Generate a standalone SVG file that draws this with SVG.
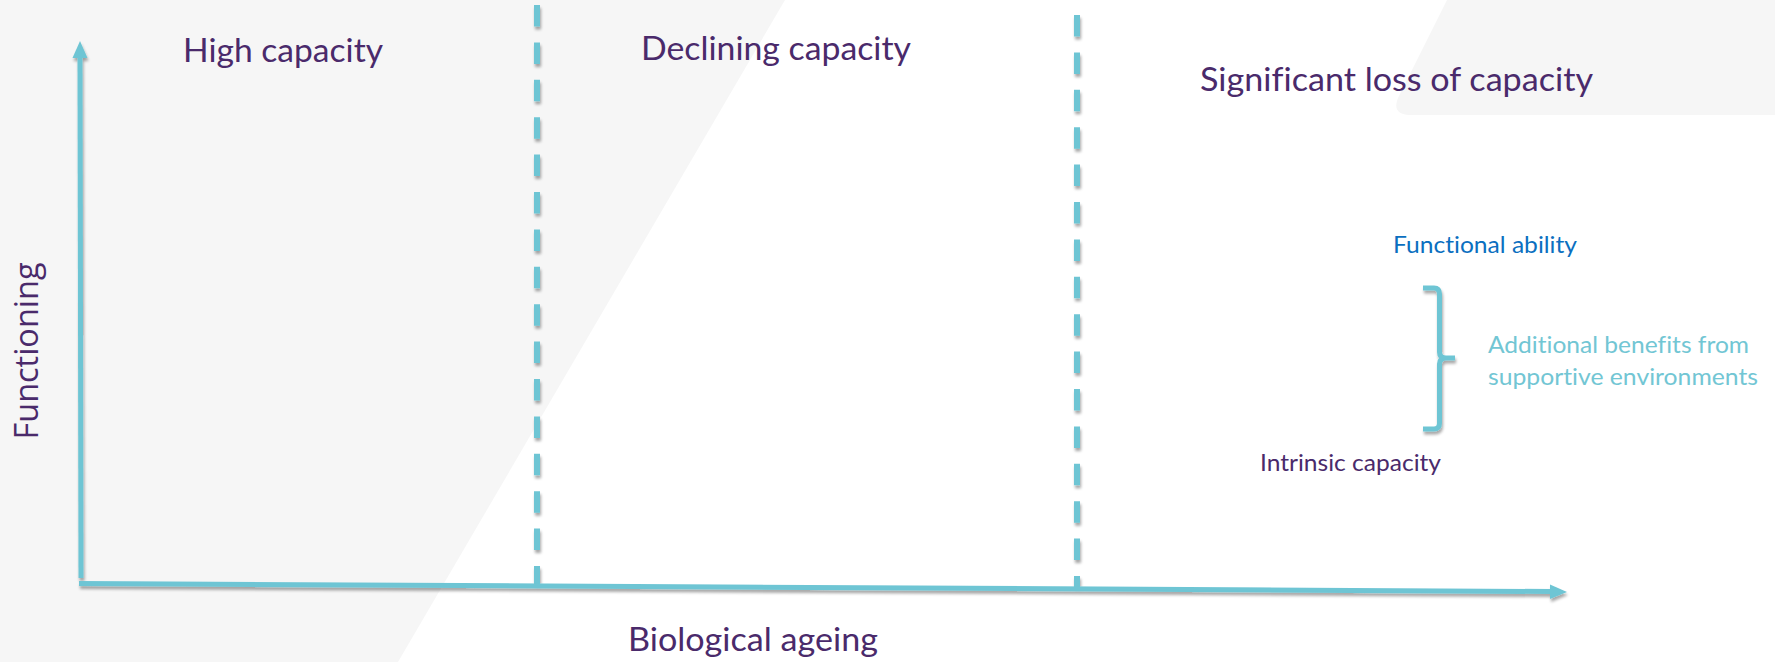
<svg xmlns="http://www.w3.org/2000/svg" width="1775" height="662" viewBox="0 0 1775 662">
  <defs>
    <filter id="shadow" x="-20%" y="-20%" width="140%" height="140%">
      <feGaussianBlur in="SourceAlpha" stdDeviation="1.6"/>
      <feOffset dx="1" dy="3" result="off"/>
      <feComponentTransfer><feFuncA type="linear" slope="0.35"/></feComponentTransfer>
      <feMerge><feMergeNode/><feMergeNode in="SourceGraphic"/></feMerge>
    </filter>
  </defs>
  <style>
    .txt { font-family: Lato, "Open Sans", "Liberation Sans", sans-serif; font-variant-ligatures: none; font-feature-settings: "liga" 0, "clig" 0, "dlig" 0; }
    .head { font-size: 33px; fill: #4a2a6b; }
    .small { font-size: 23px; }
    .purple { fill: #4a2a6b; }
    .blue { fill: #0b6fc0; }
    .teal { fill: #72c6d4; }
    .axis { stroke: #6ec5d4; stroke-width: 5; fill: none; }
    .dash { stroke: #6ec5d4; stroke-width: 6; fill: none; stroke-dasharray: 21.5 15.9; }
    .head-fill { fill: #6ec5d4; }
  </style>

  <!-- background panels -->
  <rect x="0" y="0" width="1775" height="662" fill="#ffffff"/>
  <polygon points="0,0 785,0 398,662 0,662" fill="#f6f6f6"/>
  <path d="M1447,0 L1398,98 Q1391,115 1412,115 L1775,115 L1775,0 Z" fill="#f6f6f6"/>

  <!-- axes and phase boundaries -->
  <g id="connectors" filter="url(#shadow)">
    <line class="dash" x1="537" y1="5" x2="537" y2="584"/>
    <line class="dash" x1="1077" y1="15" x2="1077" y2="590"/>
    <line class="axis" x1="81" y1="578" x2="80" y2="55"/>
    <polygon class="head-fill" points="72.5,58 80,41 87.5,58"/>
    <line class="axis" x1="79" y1="583.5" x2="1553" y2="591.5"/>
    <polygon class="head-fill" points="1550,584.5 1567,592 1550,599"/>
  </g>

  <!-- phase titles -->
  <g id="phase-high">
    <text class="txt head" x="183" y="62" textLength="200" lengthAdjust="spacingAndGlyphs">High capacity</text>
  </g>
  <g id="phase-declining">
    <text class="txt head" x="641" y="60" textLength="270" lengthAdjust="spacingAndGlyphs">Declining capacity</text>
  </g>
  <g id="phase-loss">
    <text class="txt head" x="1200" y="91" textLength="393" lengthAdjust="spacingAndGlyphs">Significant loss of capacity</text>
  </g>

  <!-- axis labels -->
  <g id="label-y">
    <text class="txt purple" font-size="32" transform="translate(38,351) rotate(-90)" text-anchor="middle" textLength="177" lengthAdjust="spacingAndGlyphs" style="font-family:'Open Sans','Liberation Sans',sans-serif">Functioning</text>
  </g>
  <g id="label-x">
    <text class="txt head" x="628" y="651" textLength="250" lengthAdjust="spacingAndGlyphs">Biological ageing</text>
  </g>

  <!-- legend: functional ability vs intrinsic capacity -->
  <g id="functional-ability">
    <text class="txt small blue" x="1393" y="253" textLength="184" lengthAdjust="spacingAndGlyphs">Functional ability</text>
  </g>
  <g id="brace" filter="url(#shadow)">
    <path d="M1423,288 L1434,288 Q1439.5,288 1439.5,294 L1439.5,352 Q1439.5,358 1446,358 L1455,358 M1446,358 Q1439.5,358 1439.5,364 L1439.5,423 Q1439.5,429 1434,429 L1423,429" fill="none" stroke="#6ec5d4" stroke-width="5"/>
  </g>
  <g id="benefits">
    <text class="txt small teal" x="1488" y="353" textLength="261" lengthAdjust="spacingAndGlyphs">Additional benefits from</text>
    <text class="txt small teal" x="1488" y="385" textLength="270" lengthAdjust="spacingAndGlyphs">supportive environments</text>
  </g>
  <g id="intrinsic-capacity">
    <text class="txt small purple" x="1260" y="471" textLength="181" lengthAdjust="spacingAndGlyphs">Intrinsic capacity</text>
  </g>
</svg>
